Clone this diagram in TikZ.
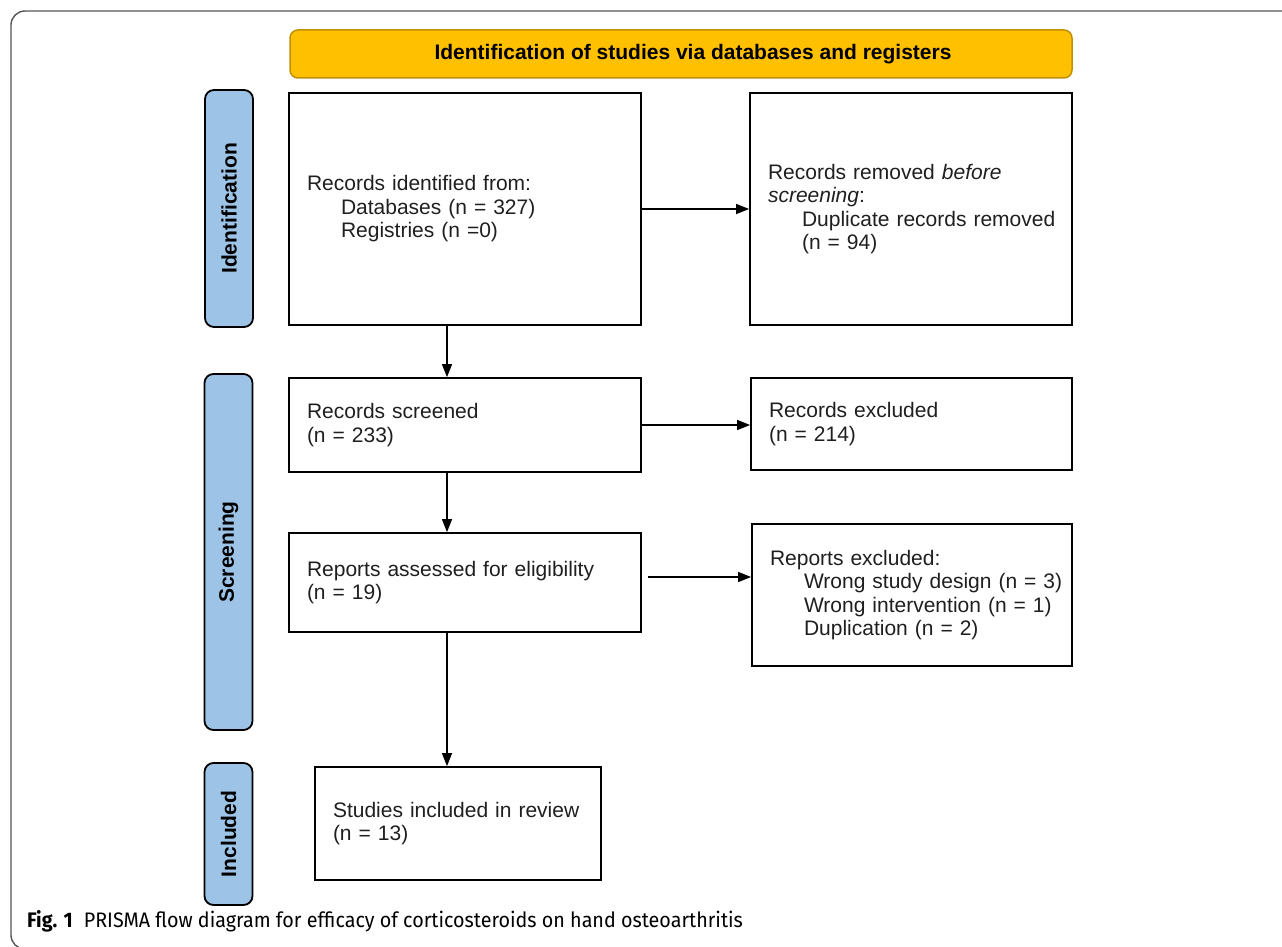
\documentclass[tikz,border=0pt]{standalone}
\usepackage{fontspec}
\setmainfont{Liberation Sans}
\newfontfamily\capfont[FakeStretch=0.94]{Fira Sans}
\usepackage{xcolor}
\usepackage{tikz}
\usetikzlibrary{arrows.meta, positioning, calc}

\definecolor{hdryellow}{HTML}{FFC000}
\definecolor{hdrborder}{HTML}{BF9000}
\definecolor{phaseblue}{HTML}{9DC3E6}
\definecolor{framegray}{HTML}{555555}
\newcommand{\ind}[1]{\hspace*{34pt}\mbox{#1}}

\begin{document}
\begin{tikzpicture}[x=1pt, y=-1pt,
    box/.style={draw, line width=1.8pt, align=left, inner xsep=18pt, inner ysep=0pt,
        font=\fontsize{21}{23.5}\selectfont, text=black!88},
    phase/.style={draw, line width=1.8pt, fill=phaseblue, rounded corners=9pt, rotate=90,
        minimum height=48pt, inner sep=0pt, font=\fontsize{21}{24}\selectfont\bfseries},
    arr/.style={line width=1.3pt, -{Triangle[length=13pt, width=10pt]}}]
    \useasboundingbox (0,0) rectangle (1282,947);
    \begin{scope}
        \clip (0,0) rectangle (1282,947);
        \draw[framegray, line width=1.4pt, rounded corners=14pt] (11,11) rectangle (1320,949);
    \end{scope}

    % header
    \node[draw=hdrborder, line width=1.5pt, fill=hdryellow, rounded corners=8pt,
        minimum width=782pt, minimum height=48pt, inner sep=0pt,
        font=\fontsize{21}{24}\selectfont\bfseries] (head) at (681,54)
        {\hspace*{24pt}Identification of studies via databases and registers};

    % phases
    \node[phase, minimum width=237pt] (pid) at (229,208.5) {Identification};
    \node[phase, minimum width=356pt] (pscr) at (228.5,552) {Screening};
    \node[phase, minimum width=142pt] (pinc) at (228.5,834) {Included};

    % boxes
    \node[box, text width=316pt, minimum height=232pt] (ident) at (465,209)
        {Records identified from:\\ \ind{Databases (n = 327)}\\ \ind{Registries (n =0)}};
    \node[box, text width=286pt, minimum height=232pt] (removed) at (911,209)
        {Records removed \textit{before}\\ \textit{screening}:\\ \ind{Duplicate records removed}\\ \ind{(n = 94)}};
    \node[box, text width=316pt, minimum height=94pt] (screened) at (465,425)
        {Records screened\\ (n = 233)};
    \node[box, text width=285pt, minimum height=92pt] (excl) at (911.5,424)
        {Records excluded\\ (n = 214)};
    \node[box, text width=316pt, minimum height=99pt] (assessed) at (465,582.5)
        {Reports assessed for eligibility\\ (n = 19)};
    \node[box, text width=284pt, minimum height=142pt] (repexcl) at (912,595)
        {Reports excluded:\\ \ind{Wrong study design (n = 3)}\\ \ind{Wrong intervention (n = 1)}\\ \ind{Duplication (n = 2)}};
    \node[box, text width=250pt, minimum height=113pt] (incl) at (458,823.5)
        {Studies included in review\\ (n = 13)};

    % arrows
    \draw[arr] (ident.east) -- (removed.west);
    \draw[arr] (screened.east) -- (screened.east -| excl.west);
    \draw[arr] ([xshift=6pt, yshift=5.5pt]assessed.east) -- ([yshift=5.5pt]assessed.east -| repexcl.west);
    \draw[arr] ([xshift=-18pt]ident.south) -- ([xshift=-18pt]ident.south |- screened.north);
    \draw[arr] ([xshift=-18pt]screened.south) -- ([xshift=-18pt]screened.south |- assessed.north);
    \draw[arr] ([xshift=-18pt]assessed.south) -- ([xshift=-18pt]assessed.south |- incl.north);

    % caption
    \node[anchor=base west, inner sep=0pt, font=\capfont\fontsize{21}{24}\selectfont] (cap) at (27,927)
        {\textbf{Fig. 1}\hspace{11pt}PRISMA flow diagram for efficacy of corticosteroids on hand osteoarthritis};
\end{tikzpicture}
\end{document}
